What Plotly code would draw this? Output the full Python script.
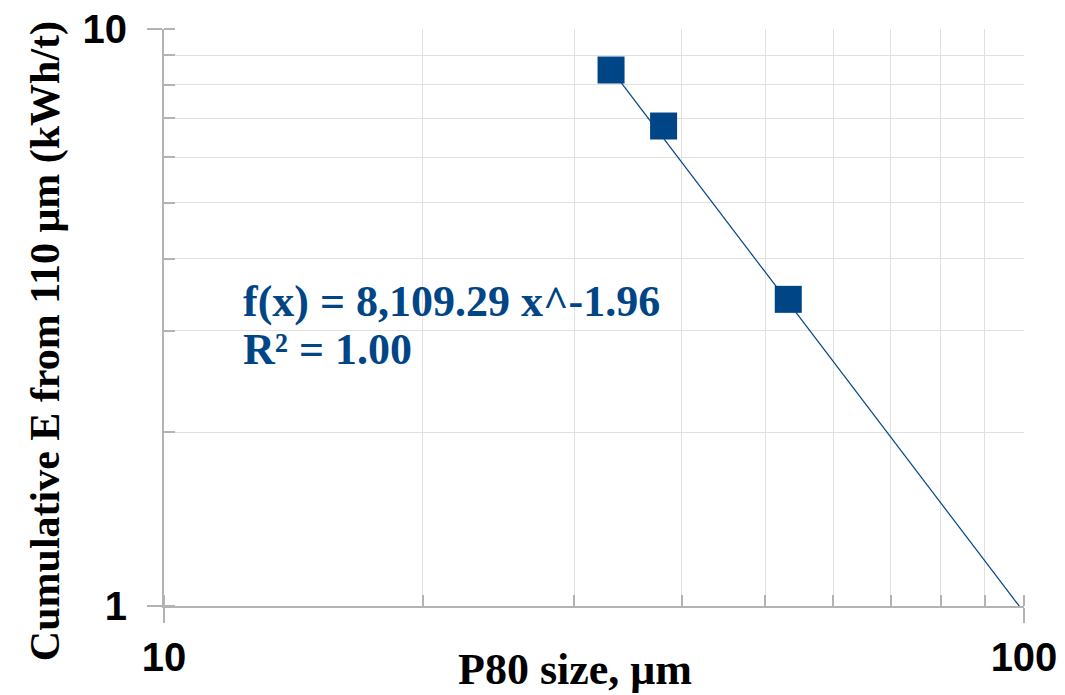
import plotly.graph_objects as go
import numpy as np

# Data
p80_size = [33.1, 38.1, 53.2]
cum_energy = [8.49, 6.79, 3.40]
fit_coef = 8109.29
fit_exp = -1.96
fit_x_range = [33.1, 100]
eq_line1 = "f(x) = 8,109.29 x^-1.96"
eq_line2 = "R² = 1.00"
x_title = "P80 size, μm"
y_title = "Cumulative E from 110 μm (kWh/t)"

color = "#004586"

fit_x = np.logspace(np.log10(fit_x_range[0]), np.log10(fit_x_range[1]), 50)
fit_y = fit_coef * fit_x ** fit_exp

fig = go.Figure()
fig.add_trace(go.Scatter(x=fit_x, y=fit_y, mode="lines",
                         line=dict(color=color, width=1.2), showlegend=False, hoverinfo="skip"))
fig.add_trace(go.Scatter(x=p80_size, y=cum_energy, mode="markers",
                         marker=dict(symbol="square", size=27, color=color,
                                     line=dict(width=0)), showlegend=False))

eq_font = dict(family="Liberation Serif", size=44, color=color, weight="bold")
fig.add_annotation(x=0.0895, y=0.527, xref="paper", yref="paper", text=eq_line1,
                   showarrow=False, xanchor="left", yanchor="middle", font=eq_font)
fig.add_annotation(x=0.0895, y=0.445, xref="paper", yref="paper", text=eq_line2,
                   showarrow=False, xanchor="left", yanchor="middle", font=eq_font)

fig.add_annotation(x=0.478, y=-0.1542, xref="paper", yref="paper", text=x_title,
                   showarrow=False, xanchor="center", yanchor="bottom", borderpad=0,
                   font=dict(family="Liberation Serif", size=44, color="black", weight="bold"))
fig.add_annotation(x=-0.1384, y=0.459, xref="paper", yref="paper", text=y_title,
                   textangle=-90, showarrow=False, xanchor="center", yanchor="middle",
                   font=dict(family="Liberation Serif", size=42, color="black", weight="bold"))

axis_common = dict(
    type="log", automargin=False,
    showline=True, linecolor="#b3b3b3", linewidth=2,
    ticks="outside", ticklen=15, tickcolor="#b3b3b3", tickwidth=2,
    gridcolor="#b3b3b3", gridwidth=1,
    zeroline=False,
    tickfont=dict(family="Liberation Sans", size=40, color="black", weight="bold"),
    minor=dict(ticks="inside", ticklen=11, tickcolor="#b3b3b3", tickwidth=2,
               showgrid=True, gridcolor="#e0e0e0", gridwidth=1, dtick="D1"),
)

fig.update_xaxes(**axis_common, showgrid=False, range=[1, 2],
                 tickvals=[10, 100], ticktext=["10", "100"])
fig.update_yaxes(**axis_common, showgrid=True, range=[0, 1],
                 tickvals=[1, 10], ticktext=["1", "10"], ticklabelstandoff=12)

fig.update_layout(
    width=1065, height=695,
    margin=dict(l=164, r=41, t=29, b=89),
    plot_bgcolor="white", paper_bgcolor="white",
)

fig.write_html("out.html")
